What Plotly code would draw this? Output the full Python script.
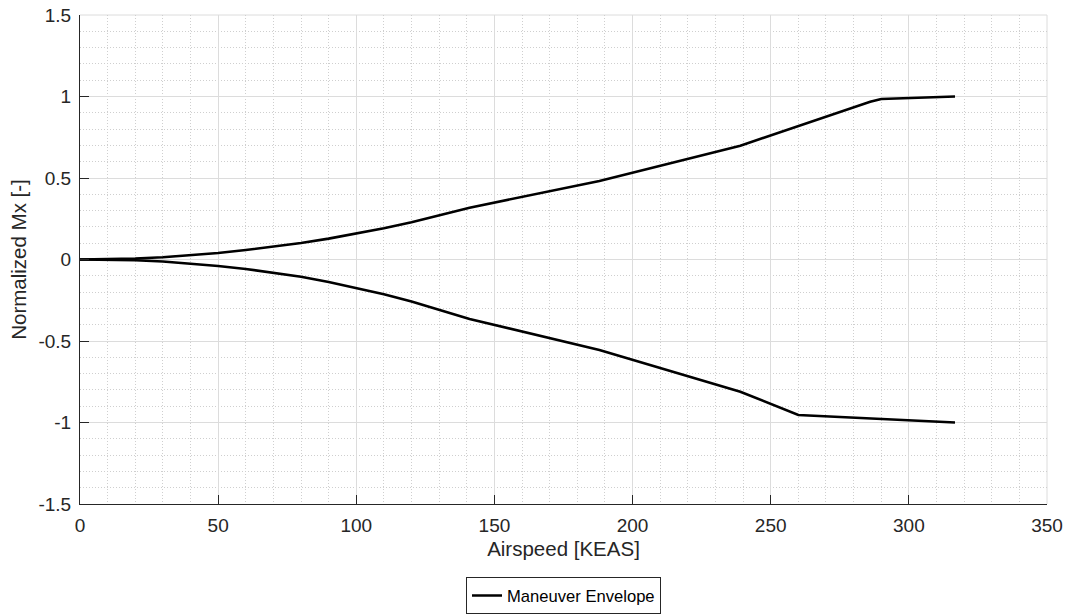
import plotly.graph_objects as go

# Maneuver envelope: normalized rolling moment vs. equivalent airspeed
upper_keas = [0, 10, 20, 30, 40, 50, 60, 70, 80, 90, 100, 110, 120, 130, 141,
              188, 239, 286, 290, 316.7]
upper_mx = [0, 0.002, 0.006, 0.014, 0.026, 0.04, 0.058, 0.078, 0.101, 0.128,
            0.158, 0.192, 0.228, 0.27, 0.318, 0.482, 0.698, 0.968, 0.985, 1.0]

lower_keas = [0, 10, 20, 30, 40, 50, 60, 70, 80, 90, 100, 110, 120, 130, 141,
              188, 239, 260, 316.7]
lower_mx = [0, -0.001, -0.005, -0.012, -0.024, -0.04, -0.058, -0.08, -0.106,
            -0.138, -0.175, -0.213, -0.257, -0.307, -0.365, -0.555, -0.811,
            -0.954, -1.0]

x_ticks = [0, 50, 100, 150, 200, 250, 300, 350]
y_ticks = [-1.5, -1, -0.5, 0, 0.5, 1, 1.5]
y_tick_text = ["-1.5", "-1", "-0.5", "0", "0.5", "1", "1.5"]

INK = "#262626"
GRID = "#dcdcdc"
MINOR = "#cfcfcf"
FONT = "Liberation Sans, Arial, Helvetica, sans-serif"

# both branches in one trace, separated by a gap
xs = upper_keas + [None] + lower_keas
ys = upper_mx + [None] + lower_mx

fig = go.Figure()
fig.add_trace(go.Scatter(
    x=xs, y=ys, mode="lines", name="Maneuver Envelope",
    connectgaps=False,
    line=dict(color="black", width=2.6),
))

axis_common = dict(
    showline=True, linecolor=INK, linewidth=1,
    ticks="inside", ticklen=9, tickwidth=1, tickcolor=INK,
    showgrid=True, gridcolor=GRID, gridwidth=1,
    zeroline=False, mirror=False, automargin=False,
    tickfont=dict(family=FONT, size=19, color=INK),
)

fig.update_xaxes(
    **axis_common,
    range=[0, 350], tickvals=x_ticks,
    minor=dict(dtick=10, showgrid=True, gridcolor=MINOR, griddash="1px,2px",
               gridwidth=1, ticks=""),
    title=dict(text="Airspeed [KEAS]", font=dict(family=FONT, size=20.5, color=INK),
               standoff=6),
    ticklabelstandoff=4,
)
fig.update_yaxes(
    **axis_common,
    range=[-1.5, 1.5], tickvals=y_ticks, ticktext=y_tick_text,
    minor=dict(dtick=0.1, showgrid=True, gridcolor=MINOR, griddash="1px,2px",
               gridwidth=1, ticks=""),
    title=dict(text="Normalized Mx [-]", font=dict(family=FONT, size=20.5, color=INK),
               standoff=6),
    ticklabelstandoff=4,
)

# light frame on the open top and right sides
fig.add_shape(type="line", xref="paper", yref="paper", x0=0, x1=1, y0=1, y1=1,
              line=dict(color=GRID, width=1), layer="below")
fig.add_shape(type="line", xref="paper", yref="paper", x0=1, x1=1, y0=0, y1=1,
              line=dict(color=GRID, width=1), layer="below")

fig.update_layout(
    width=1068, height=614,
    margin=dict(l=80, r=21, t=15, b=110, autoexpand=False),
    paper_bgcolor="white", plot_bgcolor="white",
    font=dict(family=FONT, color=INK),
    showlegend=True,
    legend=dict(
        orientation="h", x=0.5, xanchor="center",
        yref="container", y=0.06, yanchor="top",
        bgcolor="white", bordercolor=INK, borderwidth=1,
        font=dict(family=FONT, size=16.6, color="black"),
        itemwidth=30,
    ),
)

fig.write_html("out.html")
